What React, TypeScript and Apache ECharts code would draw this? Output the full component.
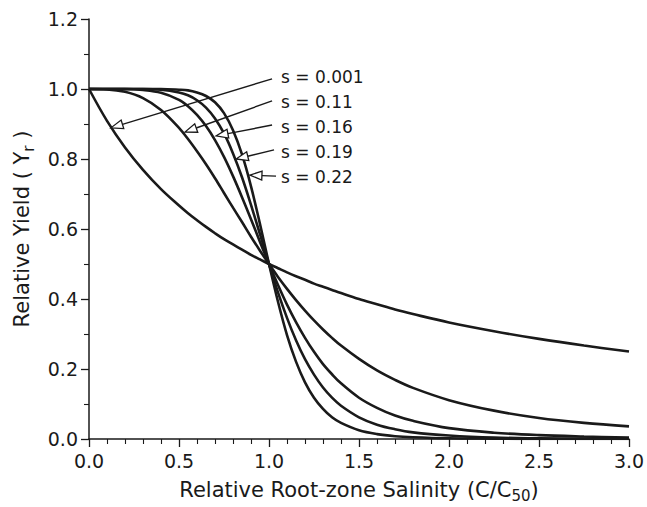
import React, { useEffect, useRef } from 'react';
import * as echarts from 'echarts';

// Relative root-zone salinity (C/C50)
const xValues = [0, 0.1, 0.2, 0.3, 0.4, 0.5, 0.55, 0.6, 0.65, 0.7, 0.75, 0.8, 0.85, 0.9, 0.95, 1.0, 1.05, 1.1, 1.15, 1.2, 1.25, 1.3, 1.35, 1.4, 1.5, 1.6, 1.7, 1.8, 2.0, 2.25, 2.5, 2.75, 3.0];

const seriesNames = ['s = 0.001', 's = 0.11', 's = 0.16', 's = 0.19', 's = 0.22'];

const yS0001 = [1, 0.909, 0.833, 0.769, 0.714, 0.667, 0.645, 0.625, 0.606, 0.588, 0.571, 0.556, 0.541, 0.526, 0.513, 0.5, 0.488, 0.476, 0.465, 0.455, 0.444, 0.435, 0.426, 0.417, 0.4, 0.385, 0.37, 0.357, 0.333, 0.308, 0.286, 0.267, 0.25];
const yS011 = [1, 0.999, 0.992, 0.974, 0.94, 0.889, 0.857, 0.822, 0.785, 0.745, 0.703, 0.661, 0.62, 0.578, 0.538, 0.5, 0.463, 0.429, 0.397, 0.367, 0.339, 0.313, 0.289, 0.267, 0.229, 0.196, 0.169, 0.146, 0.111, 0.081, 0.06, 0.046, 0.036];
const yS016 = [1, 1, 1, 0.997, 0.989, 0.969, 0.951, 0.926, 0.894, 0.854, 0.806, 0.751, 0.691, 0.628, 0.563, 0.5, 0.44, 0.384, 0.334, 0.289, 0.249, 0.214, 0.185, 0.159, 0.118, 0.089, 0.067, 0.052, 0.031, 0.018, 0.011, 0.007, 0.004];
const yS019 = [1, 1, 1, 1, 0.998, 0.99, 0.982, 0.968, 0.947, 0.916, 0.873, 0.816, 0.748, 0.669, 0.585, 0.5, 0.419, 0.346, 0.282, 0.228, 0.184, 0.147, 0.118, 0.095, 0.062, 0.041, 0.028, 0.019, 0.01, 0.004, 0.002, 0.001, 0.001];
const yS022 = [1, 1, 1, 1, 1, 0.998, 0.996, 0.99, 0.98, 0.962, 0.931, 0.882, 0.813, 0.722, 0.614, 0.5, 0.392, 0.297, 0.221, 0.162, 0.118, 0.086, 0.062, 0.046, 0.025, 0.014, 0.008, 0.005, 0.002, 0.001, 0, 0, 0];

const seriesValues = [yS0001, yS011, yS016, yS019, yS022];

// Annotation anchors in data coordinates (label position, arrow start, arrow tip)
const labelAnchors = [[1.067, 1.034], [1.067, 0.963], [1.067, 0.891], [1.067, 0.82], [1.067, 0.749]];
const arrowStarts = [[1.017, 1.029], [1.017, 0.966], [1.017, 0.897], [1.028, 0.826], [1.039, 0.751]];
const arrowTips = [[0.122, 0.889], [0.533, 0.877], [0.706, 0.866], [0.817, 0.8], [0.894, 0.754]];

const FONT = '"DejaVu Sans", Arial, Helvetica, sans-serif';
const INK = '#1a1a1a';

export default function App() {
  const ref = useRef<HTMLDivElement>(null);

  useEffect(() => {
    document.body.style.margin = '0';
    const chart = echarts.init(ref.current!, null, { renderer: 'svg' });

    const option: any = {
      animation: false,
      backgroundColor: '#ffffff',
      grid: { left: 89, right: 18, top: 19, bottom: 68, containLabel: false, outerBoundsMode: 'none' },
      xAxis: {
        type: 'value',
        min: 0,
        max: 3,
        interval: 0.5,
        name: '{t|Relative Root-zone Salinity (C/C}{s|50}{t|)}',
        nameLocation: 'middle',
        nameGap: 37,
        nameTextStyle: {
          rich: {
            t: { fontSize: 21, fontFamily: FONT, color: INK },
            s: { fontSize: 15, fontFamily: FONT, color: INK, padding: [12, 0, 0, 0] },
          },
        },
        axisLine: { show: true, lineStyle: { color: INK, width: 1.5 } },
        axisTick: { show: true, inside: false, length: 8, lineStyle: { color: INK, width: 1.3 } },
        minorTick: { show: true, splitNumber: 5, length: 5, lineStyle: { color: INK, width: 1.1 } },
        axisLabel: {
          margin: 12,
          fontSize: 19,
          fontFamily: FONT,
          color: INK,
          formatter: (v: number) => v.toFixed(1),
        },
        splitLine: { show: false },
      },
      yAxis: {
        type: 'value',
        min: 0,
        max: 1.2,
        interval: 0.2,
        name: '{t|Relative Yield ( Y}{s|r}{t| )}',
        nameLocation: 'middle',
        nameGap: 51,
        nameRotate: 90,
        nameTextStyle: {
          rich: {
            t: { fontSize: 21, fontFamily: FONT, color: INK },
            s: { fontSize: 15, fontFamily: FONT, color: INK, padding: [14, 0, 0, 0] },
          },
        },
        axisLine: { show: true, lineStyle: { color: INK, width: 1.5 } },
        axisTick: { show: true, inside: false, length: 8, lineStyle: { color: INK, width: 1.3 } },
        minorTick: { show: true, splitNumber: 2, length: 5, lineStyle: { color: INK, width: 1.1 } },
        axisLabel: {
          margin: 11,
          fontSize: 19,
          fontFamily: FONT,
          color: INK,
          formatter: (v: number) => v.toFixed(1),
        },
        splitLine: { show: false },
      },
      series: seriesValues.map((vals, i) => ({
        name: seriesNames[i],
        type: 'line',
        data: xValues.map((x, j) => [x, vals[j]]),
        showSymbol: false,
        smooth: 0.35,
        lineStyle: { color: INK, width: 2.6 },
        itemStyle: { color: INK },
        z: 3,
      })),
    };

    chart.setOption(option);

    const graphics: any[] = [];
    seriesNames.forEach((label, i) => {
      const [lx, ly] = chart.convertToPixel({ gridIndex: 0 }, labelAnchors[i]) as number[];
      const [fx, fy] = chart.convertToPixel({ gridIndex: 0 }, arrowStarts[i]) as number[];
      const [tx, ty] = chart.convertToPixel({ gridIndex: 0 }, arrowTips[i]) as number[];
      const dx = fx - tx;
      const dy = fy - ty;
      const len = Math.hypot(dx, dy) || 1;
      const ux = dx / len;
      const uy = dy / len;
      const headLen = 12;
      const headW = 4.5;
      const bx = tx + ux * headLen;
      const by = ty + uy * headLen;
      const px = -uy;
      const py = ux;
      graphics.push({
        type: 'line',
        z: 100,
        shape: { x1: fx, y1: fy, x2: bx, y2: by },
        style: { stroke: INK, lineWidth: 1.4 },
      });
      graphics.push({
        type: 'polygon',
        z: 101,
        shape: {
          points: [
            [tx, ty],
            [bx + px * headW, by + py * headW],
            [bx - px * headW, by - py * headW],
          ],
        },
        style: { fill: '#ffffff', stroke: INK, lineWidth: 1.3 },
      });
      graphics.push({
        type: 'text',
        z: 102,
        x: lx,
        y: ly,
        style: {
          text: label,
          fontSize: 17,
          fontFamily: FONT,
          fill: INK,
          align: 'left',
          verticalAlign: 'middle',
        },
      });
    });

    chart.setOption({ graphic: graphics });

    return () => {
      chart.dispose();
    };
  }, []);

  return <div ref={ref} style={{ width: 647, height: 507 }} />;
}
